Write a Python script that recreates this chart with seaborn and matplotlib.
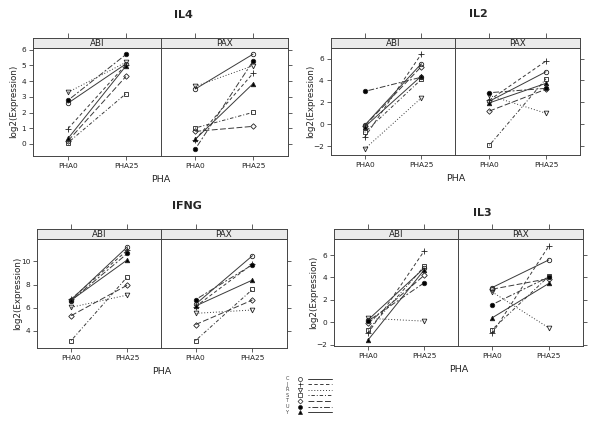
import numpy as np
import pandas as pd
import matplotlib
matplotlib.use("Agg")
import matplotlib.pyplot as plt
import seaborn as sns

sns.set_theme(style="white")
plt.rcParams['font.family'] = ['DejaVu Sans']

subjects = ["C", "J", "R", "S", "T", "U", "Y"]
conditions = ["PHA0", "PHA25"]
groups = ["ABI", "PAX"]
genes = ["IL4", "IL2", "IFNG", "IL3"]

# values per gene / group: PHA0 and PHA25 for subjects C J R S T U Y
il4_abi_pha0 = [2.60, 0.98, 3.29, 0.08, 0.20, 2.78, 0.35]
il4_abi_pha25 = [5.10, 5.05, 5.20, 3.20, 4.30, 5.70, 4.97]
il4_pax_pha0 = [3.50, 0.28, 3.67, 1.02, 0.80, -0.32, 0.30]
il4_pax_pha25 = [5.72, 4.50, 4.98, 2.01, 1.12, 5.28, 3.84]

il2_abi_pha0 = [-0.10, -1.20, -2.27, -0.75, -0.15, 3.00, -0.25]
il2_abi_pha25 = [5.54, 6.42, 2.40, 4.10, 5.27, 4.30, 4.40]
il2_pax_pha0 = [2.10, 2.20, 2.63, -1.94, 1.20, 2.88, 1.95]
il2_pax_pha25 = [4.80, 5.78, 1.00, 4.16, 3.20, 3.28, 3.74]

ifng_abi_pha0 = [6.70, 6.75, 6.04, 3.17, 5.32, 6.62, 6.65]
ifng_abi_pha25 = [11.26, 10.97, 7.10, 8.68, 7.96, 10.69, 10.14]
ifng_pax_pha0 = [6.30, 6.10, 5.52, 3.17, 4.55, 6.70, 6.15]
ifng_pax_pha25 = [10.49, 9.77, 5.81, 7.59, 6.67, 9.71, 8.39]

il3_abi_pha0 = [0.20, -1.00, 0.35, -0.70, -0.10, 0.10, -1.60]
il3_abi_pha25 = [4.85, 6.39, 0.10, 5.00, 4.20, 3.53, 4.70]
il3_pax_pha0 = [3.10, -1.00, 2.70, -0.65, 2.95, 1.58, 0.40]
il3_pax_pha25 = [5.56, 6.80, -0.50, 4.10, 3.90, 4.05, 3.46]

values = {
    ("IL4", "ABI"): (il4_abi_pha0, il4_abi_pha25),
    ("IL4", "PAX"): (il4_pax_pha0, il4_pax_pha25),
    ("IL2", "ABI"): (il2_abi_pha0, il2_abi_pha25),
    ("IL2", "PAX"): (il2_pax_pha0, il2_pax_pha25),
    ("IFNG", "ABI"): (ifng_abi_pha0, ifng_abi_pha25),
    ("IFNG", "PAX"): (ifng_pax_pha0, ifng_pax_pha25),
    ("IL3", "ABI"): (il3_abi_pha0, il3_abi_pha25),
    ("IL3", "PAX"): (il3_pax_pha0, il3_pax_pha25),
}

rows = []
for (g, grp), (a, b) in values.items():
    for s, v0, v1 in zip(subjects, a, b):
        rows.append(dict(gene=g, group=grp, subject=s, PHA="PHA0", pos=1, val=v0))
        rows.append(dict(gene=g, group=grp, subject=s, PHA="PHA25", pos=2, val=v1))
df = pd.DataFrame(rows)

# styles (lattice-like)
marker_map = {"C": "o", "J": "+", "R": "v", "S": "s", "T": "D", "U": "o", "Y": "^"}
filled = {"C": False, "J": False, "R": False, "S": False, "T": False, "U": True, "Y": True}
msize = {"C": 3.2, "J": 4.0, "R": 3.4, "S": 3.0, "T": 2.8, "U": 3.2, "Y": 3.2}
ls_map = {
    "C": "-",
    "J": (0, (3.5, 2.5)),
    "R": (0, (1, 2)),
    "S": (0, (1, 2, 3.5, 2)),
    "T": (0, (6, 2.5)),
    "U": (0, (2, 2, 6, 2)),
    "Y": "-",
}
line_col = "#3a3a3a"

W, H = 600, 426
fig = plt.figure(figsize=(6.0, 4.26), dpi=100)

def fax(x0, x1, ytop, ybot):
    return fig.add_axes([x0 / W, 1 - ybot / H, (x1 - x0) / W, (ybot - ytop) / H])

layout = {
    # xl, xm, xr, strip_top, strip_bot, panel_bot, ylim, yticks, title x, title y
    "IL4": (33.3, 160.7, 287.7, 37.7, 47.7, 155.7, (-0.75, 6.13), [0, 1, 2, 3, 4, 5, 6], 183, 15),
    "IL2": (330.7, 455.3, 580.0, 37.7, 47.7, 155.0, (-2.82, 7.0), [-2, 0, 2, 4, 6], 478, 14),
    "IFNG": (37.3, 161.3, 286.7, 229.3, 239.3, 347.7, (2.56, 11.9), [4, 6, 8, 10], 187, 206),
    "IL3": (334.0, 458.3, 582.7, 228.7, 239.0, 346.0, (-2.12, 7.43), [-2, 0, 2, 4, 6], 482, 213),
}

fs_tick = 5.3
frame_col = "#444444"

for gene in genes:
    xl, xm, xr, st, sb, pb, ylim, yt, tx, ty = layout[gene]
    for gi, grp in enumerate(groups):
        x0, x1 = (xl, xm) if gi == 0 else (xm, xr)
        ax = fax(x0, x1, sb, pb)
        sub = df[(df.gene == gene) & (df.group == grp)]
        for s in subjects:
            d = sub[sub.subject == s]
            sns.lineplot(data=d, x="pos", y="val", ax=ax, color=line_col,
                         linestyle=ls_map[s], linewidth=0.7,
                         marker=marker_map[s], markersize=msize[s],
                         markerfacecolor=("black" if filled[s] else "none"),
                         markeredgecolor="#222222", markeredgewidth=0.6,
                         estimator=None, sort=True, legend=False)
        ax.set_xlim(0.4, 2.6)
        ax.set_ylim(*ylim)
        ax.set_xticks([1, 2])
        ax.set_xticklabels(conditions, fontsize=fs_tick)
        ax.set_yticks(yt)
        ax.set_xlabel("")
        ax.set_ylabel("")
        for sp in ax.spines.values():
            sp.set_color(frame_col)
            sp.set_linewidth(0.7)
        ax.tick_params(axis="x", direction="out", length=3, width=0.6, color=frame_col,
                       pad=2, labelsize=fs_tick, labelcolor="#222222")
        if gi == 0:
            ax.tick_params(axis="y", left=True, right=False, labelleft=True, labelright=False,
                           direction="out", length=3, width=0.6, color=frame_col,
                           pad=2, labelsize=fs_tick, labelcolor="#222222")
        else:
            ax.tick_params(axis="y", left=False, right=True, labelleft=False, labelright=False,
                           direction="out", length=3, width=0.6, color=frame_col)
        ax.tick_params(axis="x", bottom=True)
        ax.set_facecolor("white")
        # strip
        sax = fax(x0, x1, st, sb)
        sax.set_facecolor("#ebebeb")
        sax.set_xlim(0.4, 2.6)
        sax.set_ylim(0, 1)
        sax.set_yticks([])
        sax.set_xticks([1, 2])
        sax.tick_params(axis="x", bottom=False, top=True, labelbottom=False, labeltop=False,
                        direction="out", length=3.5, width=0.6, color=frame_col)
        for sp in sax.spines.values():
            sp.set_color(frame_col)
            sp.set_linewidth(0.7)
        sax.text(1.5, 0.45, grp, ha="center", va="center", fontsize=6.3, color="#222222")
    # labels
    fig.text(tx / W, 1 - ty / H, gene, ha="center", va="center", fontsize=8, fontweight="bold")
    fig.text(((xl + xr) / 2) / W, 1 - (pb + 24) / H, "PHA", ha="center", va="center",
             fontsize=6.8, color="#222222")
    fig.text((xl - 20) / W, 1 - ((sb + pb) / 2) / H, "log2(Expression)", rotation=90,
             ha="center", va="center", fontsize=6.3, color="#222222")

# legend
ly0, dy = 378.5, 5.6
for i, s in enumerate(subjects):
    y = 1 - (ly0 + i * dy) / H
    fig.text(287 / W, y, s, ha="center", va="center", fontsize=3.6, color="#444444")
    fig.lines.append(plt.Line2D([300 / W], [y], transform=fig.transFigure,
                                marker=marker_map[s], markersize=msize[s] * 0.9,
                                markerfacecolor=("black" if filled[s] else "none"),
                                markeredgecolor="#222222", markeredgewidth=0.5, linestyle="none"))
    fig.lines.append(plt.Line2D([308 / W, 332 / W], [y, y], transform=fig.transFigure,
                                color=line_col, linewidth=0.7, linestyle=ls_map[s]))

fig.savefig("out.png", dpi=100, facecolor="white")
